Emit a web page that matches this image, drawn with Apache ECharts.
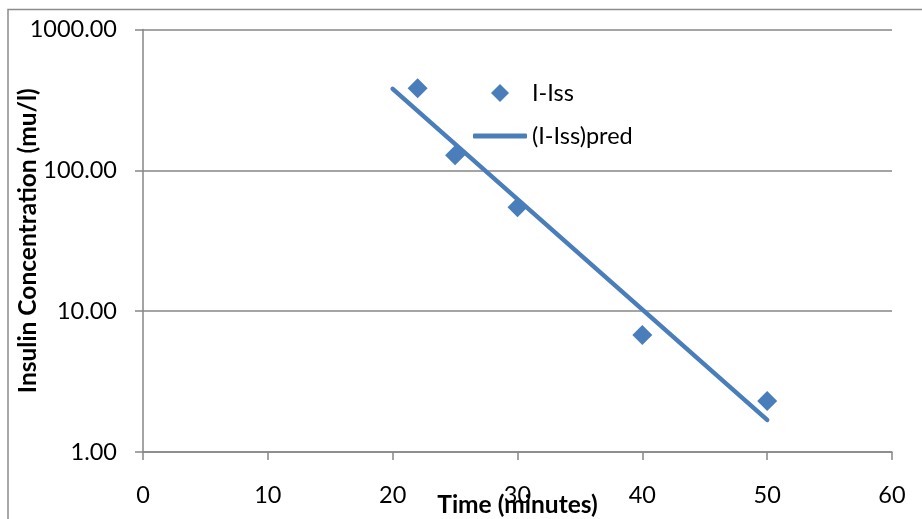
<!DOCTYPE html>
<html>
<head>
<meta charset="utf-8">
<script src="https://cdn.jsdelivr.net/npm/echarts@6/dist/echarts.min.js"></script>
<style>
html,body{margin:0;padding:0;background:#fff;}
#c{width:922px;height:519px;}
</style>
</head>
<body>
<div id="c"></div>
<script>
// Observed data (I - Iss)
var obsX = [22, 25, 30, 40, 50];
var obsY = [382, 128, 54.6, 6.76, 2.30];
// Predicted line endpoints
var predX = [20, 50];
var predY = [379, 1.69];
var yTicks = [1, 10, 100, 1000];
var xTicks = [0, 10, 20, 30, 40, 50, 60];

var chart = echarts.init(document.getElementById('c'));
var font = 'Lato';
var blue = '#4A7EBB';
var gray = '#868686';
var fs = 23.5;
var fsName = 24.5;

chart.setOption({
  animation: false,
  backgroundColor: '#fff',
  graphic: [{
    type: 'rect', z: -10, silent: true,
    shape: {x: 8, y: 9.5, width: 1000, height: 1000},
    style: {fill: 'none', stroke: '#8c8c8c', lineWidth: 1.5}
  }],
  grid: {left: 143, right: 30, top: 29.5, bottom: 67, containLabel: false, outerBoundsMode: 'none'},
  legend: [{
    orient: 'vertical', padding: 0,
    left: 491, top: 81,
    itemWidth: 18, itemHeight: 18,
    textStyle: {fontFamily: font, fontSize: fs, color: '#000', padding: [0, 0, 0, 18]},
    itemStyle: {opacity: 1},
    data: [{name: 'I-Iss', icon: 'diamond'}]
  }, {
    orient: 'vertical', padding: 0,
    left: 473, top: 124,
    itemWidth: 54, itemHeight: 5,
    textStyle: {fontFamily: font, fontSize: fs, color: '#000'},
    data: [{name: '(I-Iss)pred', icon: 'roundRect'}]
  }],
  xAxis: {
    type: 'value', min: xTicks[0], max: xTicks[xTicks.length - 1], interval: 10,
    name: 'Time (minutes)', nameLocation: 'middle', nameGap: 41, nameMoveOverlap: false,
    nameTextStyle: {fontFamily: font, fontSize: fsName, fontWeight: 'bold', color: '#000'},
    axisLine: {show: true, lineStyle: {color: gray, width: 1.5}},
    axisTick: {show: true, length: 8, inside: false, lineStyle: {color: gray, width: 1.5}},
    axisLabel: {fontFamily: font, fontSize: fs, color: '#000', margin: 31},
    splitLine: {show: false}
  },
  yAxis: {
    type: 'log', logBase: 10, min: yTicks[0], max: yTicks[yTicks.length - 1],
    name: 'Insulin Concentration (mu/l)', nameLocation: 'middle', nameGap: 102, nameMoveOverlap: false,
    nameTextStyle: {fontFamily: font, fontSize: fsName, fontWeight: 'bold', color: '#000'},
    axisLine: {show: true, lineStyle: {color: gray, width: 1.5}},
    axisTick: {show: true, length: 8, inside: false, lineStyle: {color: gray, width: 1.5}},
    axisLabel: {fontFamily: font, fontSize: fs, color: '#000', margin: 26,
      formatter: function (v) { return Number(v).toFixed(2); }},
    splitLine: {show: true, lineStyle: {color: gray, width: 1.5}}
  },
  series: [{
    name: 'I-Iss', type: 'scatter', symbol: 'diamond', symbolSize: 20,
    itemStyle: {color: blue, opacity: 1},
    data: obsX.map(function (x, i) { return [x, obsY[i]]; }),
    z: 3
  }, {
    name: '(I-Iss)pred', type: 'line', symbol: 'none', showSymbol: false,
    lineStyle: {color: blue, width: 4.5, cap: 'round'},
    itemStyle: {color: blue},
    data: predX.map(function (x, i) { return [x, predY[i]]; }),
    z: 2
  }]
});
</script>
</body>
</html>
